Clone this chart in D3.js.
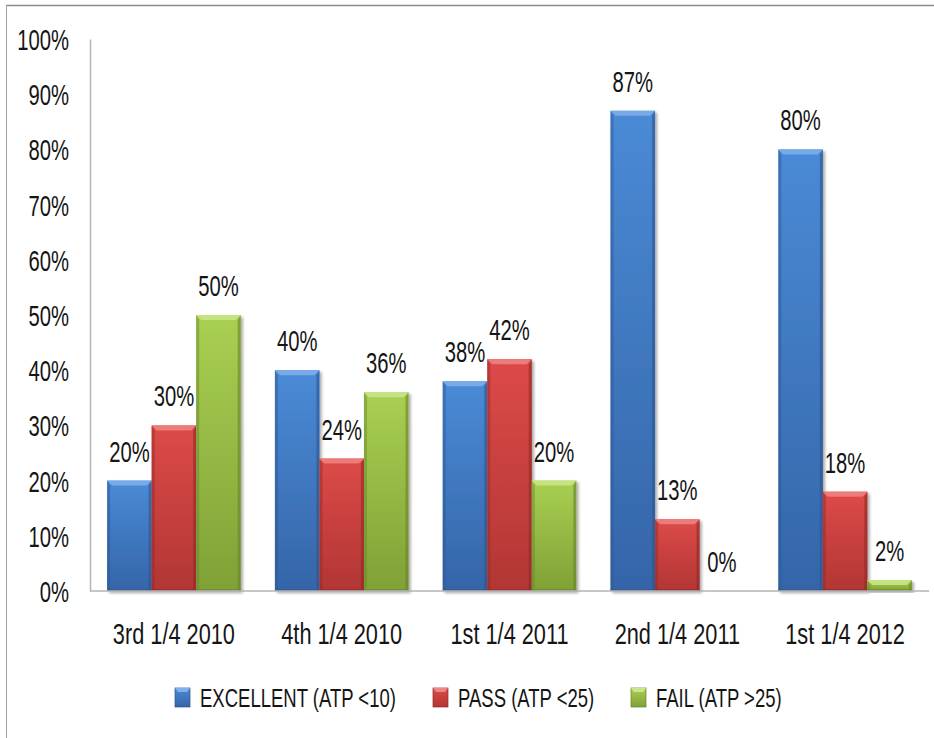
<!DOCTYPE html>
<html>
<head>
<meta charset="utf-8">
<script src="https://cdn.jsdelivr.net/npm/d3@7"></script>
<style>
  html, body { margin: 0; padding: 0; background: #fff; }
  svg { display: block; }
  text { font-family: "Liberation Sans", Arial, sans-serif; fill: #151515; }
</style>
</head>
<body>
<svg id="chart" width="934" height="738"></svg>
<script>
// Quarterly ATP swab results
const quarters = ["3rd 1/4 2010", "4th 1/4 2010", "1st 1/4 2011", "2nd 1/4 2011", "1st 1/4 2012"];
const seriesNames = ["EXCELLENT (ATP <10)", "PASS (ATP <25)", "FAIL (ATP >25)"];
const excellent = [20, 40, 38, 87, 80];
const pass = [30, 24, 42, 13, 18];
const fail = [50, 36, 20, 0, 2];
const yTicks = [0, 10, 20, 30, 40, 50, 60, 70, 80, 90, 100];

const seriesValues = [excellent, pass, fail];
const palette = [
  { top: "#4a8ad6", bottom: "#3565a8", light: "#7fb0ea", dark: "#2c5590" },
  { top: "#dc4a48", bottom: "#b23634", light: "#ef8583", dark: "#8f2826" },
  { top: "#a9cf52", bottom: "#7fa136", light: "#cbe689", dark: "#66832a" }
];

// condensed, slightly tall lettering
const sx = 0.81, sy = 1.17;
const catSx = 0.87;
const legSx = 0.83, legSy = 1.17;

const svg = d3.select("#chart");
const defs = svg.append("defs");

palette.forEach((c, i) => {
  const g = defs.append("linearGradient")
    .attr("id", "grad" + i).attr("x1", 0).attr("y1", 0).attr("x2", 0).attr("y2", 1);
  g.append("stop").attr("offset", "0%").attr("stop-color", c.top);
  g.append("stop").attr("offset", "100%").attr("stop-color", c.bottom);
});

const shadow = defs.append("filter").attr("id", "shadow")
  .attr("x", "-20%").attr("y", "-5%").attr("width", "140%").attr("height", "115%");
shadow.append("feGaussianBlur").attr("in", "SourceAlpha").attr("stdDeviation", 1.5);
shadow.append("feOffset").attr("dx", 2).attr("dy", 2).attr("result", "off");
shadow.append("feComponentTransfer").append("feFuncA").attr("type", "linear").attr("slope", 0.35);
const merge = shadow.append("feMerge");
merge.append("feMergeNode");
merge.append("feMergeNode").attr("in", "SourceGraphic");

const plotLeft = 90, plotRight = 929, plotTop = 39, plotBottom = 591;

// outer frame (top and left edges)
svg.append("line").attr("x1", 6).attr("x2", 934).attr("y1", 5.5).attr("y2", 5.5)
  .attr("stroke", "#8a8a8a").attr("stroke-width", 1.5);
svg.append("line").attr("x1", 6.5).attr("x2", 6.5).attr("y1", 5).attr("y2", 738)
  .attr("stroke", "#a0a0a0").attr("stroke-width", 1);

const x0 = d3.scaleBand().domain(quarters).range([plotLeft, plotRight]).paddingInner(0.204).paddingOuter(0.102);
const x1 = d3.scaleBand().domain(d3.range(seriesNames.length)).range([0, x0.bandwidth()]);
const y = d3.scaleLinear().domain([0, 100]).range([plotBottom, plotTop]);

// y tick labels
const yAxis = d3.axisLeft(y).tickValues(yTicks).tickFormat(d => d + "%").tickSize(0).tickPadding(21);
const yg = svg.append("g").attr("transform", `translate(${plotLeft},0)`).call(yAxis);
yg.select(".domain").attr("stroke", "#b5b5b5").attr("stroke-width", 1.5);
yg.selectAll(".tick text")
  .attr("font-size", 25).attr("fill", "#151515").attr("dy", "0.36em")
  .attr("font-family", "Liberation Sans, Arial, sans-serif")
  .attr("transform", `scale(${sx},${sy})`)
  .attr("x", -21 / sx)
  .attr("y", 0);

// bars
const groups = svg.append("g").selectAll("g").data(quarters).join("g")
  .attr("transform", d => `translate(${x0(d)},0)`);

groups.each(function (q, qi) {
  const g = d3.select(this);
  seriesValues.forEach((vals, si) => {
    const v = vals[qi];
    const bx = x1(si), bw = x1.bandwidth();
    const by = y(v), bh = y(0) - y(v);
    const c = palette[si];
    if (bh > 0) {
      const bar = g.append("g").attr("filter", "url(#shadow)");
      bar.append("rect").attr("x", bx).attr("y", by).attr("width", bw).attr("height", bh)
        .attr("fill", `url(#grad${si})`);
      const bev = Math.min(5, bh / 2), side = 3;
      // top bevel
      bar.append("polygon")
        .attr("points", [[bx, by], [bx + bw, by], [bx + bw - side - 2, by + bev], [bx + side + 2, by + bev]].join(" "))
        .attr("fill", c.light).attr("opacity", 0.85);
      // side bevels
      bar.append("polygon")
        .attr("points", [[bx, by], [bx + side, by + bev], [bx + side, by + bh], [bx, by + bh]].join(" "))
        .attr("fill", c.dark).attr("opacity", 0.45);
      bar.append("polygon")
        .attr("points", [[bx + bw, by], [bx + bw - side, by + bev], [bx + bw - side, by + bh], [bx + bw, by + bh]].join(" "))
        .attr("fill", c.dark).attr("opacity", 0.6);
      // bottom edge
      bar.append("rect").attr("x", bx).attr("y", by + bh - 2).attr("width", bw).attr("height", 2)
        .attr("fill", c.dark).attr("opacity", 0.5);
    }
    // value label
    g.append("g").attr("transform", `translate(${bx + bw / 2},${by - 19})`)
      .append("text").attr("text-anchor", "middle").attr("font-size", 25)
      .attr("transform", `scale(${sx},${sy})`)
      .text(v + "%");
  });
});

// x axis baseline and category labels
svg.append("line").attr("x1", plotLeft).attr("x2", plotRight).attr("y1", plotBottom).attr("y2", plotBottom)
  .attr("stroke", "#b5b5b5").attr("stroke-width", 1.5);
svg.append("g").selectAll("g").data(quarters).join("g")
  .attr("transform", d => `translate(${x0(d) + x0.bandwidth() / 2},644)`)
  .append("text").attr("text-anchor", "middle").attr("font-size", 25)
  .attr("transform", `scale(${catSx},${sy})`)
  .text(d => d);

// legend
const legendX = [175, 433, 631];
const legend = svg.append("g").selectAll("g").data(seriesNames).join("g")
  .attr("transform", (d, i) => `translate(${legendX[i]},697.5)`);
legend.append("rect").attr("x", 0).attr("y", -9.5).attr("width", 15).attr("height", 19)
  .attr("fill", (d, i) => `url(#grad${i})`)
  .attr("stroke", (d, i) => palette[i].dark).attr("stroke-width", 0.7);
legend.append("polygon")
  .attr("points", "0,-9.5 15,-9.5 12,-5.5 3,-5.5")
  .attr("fill", (d, i) => palette[i].light);
legend.append("g").attr("transform", "translate(25,9.5)")
  .append("text").attr("font-size", 22.3)
  .attr("transform", `scale(${legSx},${legSy})`)
  .text(d => d);
</script>
</body>
</html>
